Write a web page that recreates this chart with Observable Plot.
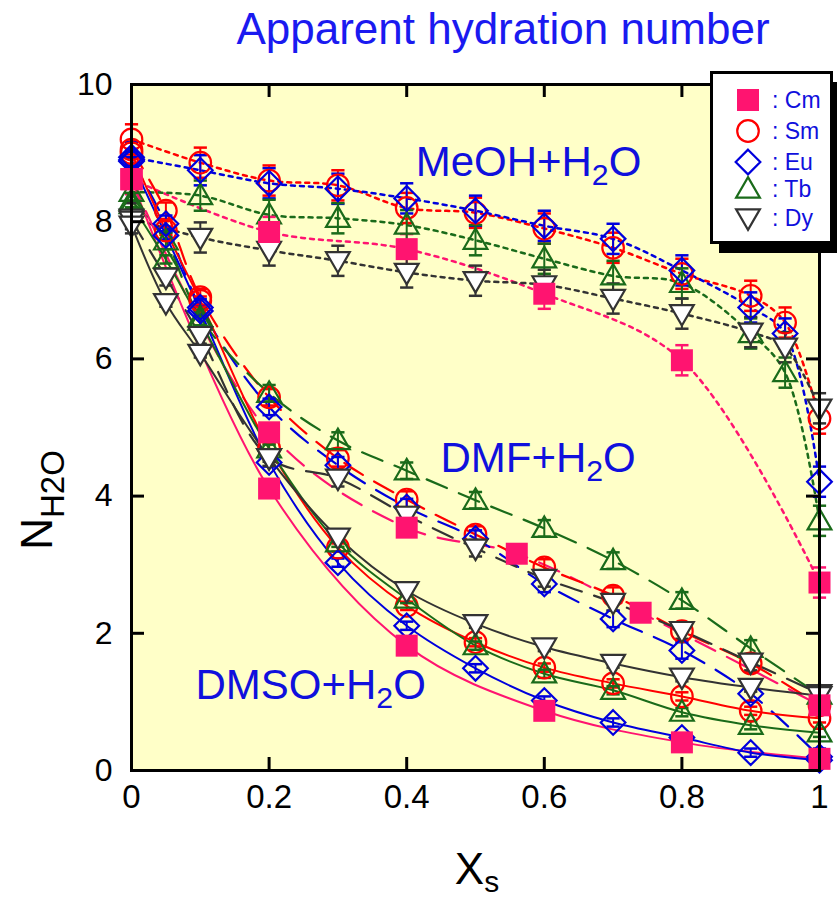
<!DOCTYPE html>
<html><head><meta charset="utf-8">
<script src="https://cdn.jsdelivr.net/npm/d3@7"></script>
<script src="https://cdn.jsdelivr.net/npm/@observablehq/plot@0.6"></script>
<style>
body{margin:0;background:#fff;font-family:"Liberation Sans",Arial,Helvetica,sans-serif;}
#wrap{position:relative;width:837px;height:899px;overflow:hidden;}
#head{position:relative;height:60px;}
#title{position:absolute;left:203px;width:600px;top:7px;text-align:center;font-size:44px;line-height:44px;color:#1a1af0;white-space:nowrap;}
#legend{position:absolute;left:710px;top:71px;}
svg{display:block;}
</style></head>
<body><div id="wrap"><div id="head"><div id="title">Apparent hydration number</div></div><div id="chart"></div><div id="legend"></div></div>
<script>
// ---------- data ----------
const ions = ["Cm", "Sm", "Eu", "Tb", "Dy"];
const solvents = ["MeOH", "DMF", "DMSO"];
const solventLabels = ["MeOH+H2O", "DMF+H2O", "DMSO+H2O"];
const labelX = [0.413, 0.449, 0.093];
const labelY = [8.86, 4.55, 1.24];

const xTicks = [0, 0.2, 0.4, 0.6, 0.8, 1];
const xTickLabels = ["0", "0.2", "0.4", "0.6", "0.8", "1"];
const yTicks = [0, 2, 4, 6, 8, 10];
const yTickLabels = ["0", "2", "4", "6", "8", "10"];
const xInner = [0.2, 0.4, 0.6, 0.8];
const yInner = [2, 4, 6, 8];

// MeOH + H2O
const xMeOH = [0, 0.1, 0.2, 0.3, 0.4, 0.5, 0.6, 0.7, 0.8, 0.9, 0.95, 1];
const xMeOHCm = [0, 0.2, 0.4, 0.6, 0.8, 1];
const meohCm = [8.62, 7.85, 7.6, 6.95, 5.98, 2.74];
const meohSm = [9.2, 8.86, 8.6, 8.53, 8.2, 8.13, 7.9, 7.62, 7.24, 6.92, 6.53, 5.13];
const meohEu = [8.94, 8.75, 8.56, 8.48, 8.34, 8.16, 7.94, 7.75, 7.29, 6.75, 6.37, 4.21];
const meohTb = [8.43, 8.38, 8.1, 8.05, 7.95, 7.73, 7.46, 7.21, 7.1, 6.37, 5.8, 3.64];
const meohDy = [8.05, 7.77, 7.58, 7.43, 7.26, 7.14, 7.08, 6.88, 6.66, 6.39, 6.17, 5.28];

// DMF + H2O
const xDMF = [0, 0.05, 0.1, 0.2, 0.3, 0.4, 0.5, 0.6, 0.7, 0.8, 0.9, 1];
const xDMFCm = [0, 0.2, 0.4, 0.56, 0.74, 1];
const dmfCm = [8.62, 4.93, 3.54, 3.16, 2.3, 0.95];
const dmfSm = [9.05, 8.16, 6.9, 5.44, 4.55, 3.95, 3.44, 2.96, 2.55, 2.03, 1.56, 0.95];
const dmfEu = [8.9, 7.97, 6.75, 5.3, 4.45, 3.84, 3.38, 2.72, 2.21, 1.75, 1.12, 0.2];
const dmfTb = [8.3, 7.72, 6.6, 5.5, 4.81, 4.37, 3.94, 3.53, 3.06, 2.48, 1.78, 1.1];
const dmfDy = [8.02, 7.19, 6.34, 4.56, 4.26, 3.72, 3.24, 2.8, 2.45, 2.04, 1.58, 1.12];

// DMSO + H2O
const xDMSO = [0, 0.05, 0.1, 0.2, 0.3, 0.4, 0.5, 0.6, 0.7, 0.8, 0.9, 1];
const xDMSOCm = [0, 0.2, 0.4, 0.6, 0.8, 1];
const dmsoCm = [8.62, 4.11, 1.82, 0.87, 0.41, 0.17];
const dmsoSm = [9.0, 7.87, 6.85, 4.7, 3.25, 2.4, 1.87, 1.5, 1.27, 1.08, 0.87, 0.76];
const dmsoEu = [8.88, 7.8, 6.7, 4.49, 3.03, 2.11, 1.49, 1.02, 0.7, 0.48, 0.26, 0.15];
const dmsoTb = [8.25, 7.45, 6.55, 4.69, 3.32, 2.5, 1.82, 1.41, 1.17, 0.85, 0.66, 0.55];
const dmsoDy = [7.95, 6.82, 6.08, 4.56, 3.4, 2.62, 2.14, 1.8, 1.56, 1.36, 1.21, 1.09];

// error bar half-widths per solvent
const errBySolvent = [0.22, 0.12, 0.06];

// ---------- build table ----------
const series = [
  ["MeOH", "Cm", xMeOHCm, meohCm], ["MeOH", "Sm", xMeOH, meohSm], ["MeOH", "Eu", xMeOH, meohEu], ["MeOH", "Tb", xMeOH, meohTb], ["MeOH", "Dy", xMeOH, meohDy],
  ["DMF", "Cm", xDMFCm, dmfCm], ["DMF", "Sm", xDMF, dmfSm], ["DMF", "Eu", xDMF, dmfEu], ["DMF", "Tb", xDMF, dmfTb], ["DMF", "Dy", xDMF, dmfDy],
  ["DMSO", "Cm", xDMSOCm, dmsoCm], ["DMSO", "Sm", xDMSO, dmsoSm], ["DMSO", "Eu", xDMSO, dmsoEu], ["DMSO", "Tb", xDMSO, dmsoTb], ["DMSO", "Dy", xDMSO, dmsoDy]
];
const rows = [];
for (const [sol, ion, xs, ys] of series) {
  const e = errBySolvent[solvents.indexOf(sol)];
  xs.forEach((x, i) => rows.push({solvent: sol, ion, x, y: ys[i], e}));
}
const annotations = solventLabels.map((t, i) => ({text: t, x: labelX[i], y: labelY[i]}));

// ---------- styles ----------
const FONT = "'Liberation Sans', Arial, Helvetica, sans-serif";
const ionStroke = {Cm: "#ff1470", Sm: "#ff0000", Eu: "#0000dd", Tb: "#1a6b1a", Dy: "#333333"};
const ionFill = {Cm: "#ff1470", Sm: "none", Eu: "none", Tb: "none", Dy: "#ffffff"};
const dash = {MeOH: "4,5", DMF: "22,13", DMSO: null};
const lineW = {MeOH: 2.5, DMF: 2.2, DMSO: 2};

function sym(fn) { return {draw(c, size) { fn(c, Math.sqrt(size / Math.PI)); }}; }
const symSquare = sym((c, r) => { c.rect(-r, -r, 2 * r, 2 * r); });
const symCircle = sym((c, r) => { const a = r * 0.98; c.moveTo(a, 0); c.arc(0, 0, a, 0, 2 * Math.PI); c.closePath(); });
const symDiamond = sym((c, r) => { const a = r * 1.12; c.moveTo(0, -a); c.lineTo(a, 0); c.lineTo(0, a); c.lineTo(-a, 0); c.closePath(); });
const symUp = sym((c, r) => { const w = r * 1.08; c.moveTo(0, -r * 1.08); c.lineTo(w, r * 0.78); c.lineTo(-w, r * 0.78); c.closePath(); });
const symDown = sym((c, r) => { const w = r * 1.08; c.moveTo(0, r * 1.08); c.lineTo(w, -r * 0.78); c.lineTo(-w, -r * 0.78); c.closePath(); });
const symCap = sym((c, r) => { c.moveTo(-r * 0.6, 0); c.lineTo(r * 0.6, 0); });
const ionSym = {Cm: symSquare, Sm: symCircle, Eu: symDiamond, Tb: symUp, Dy: symDown};
const R = 11;

// ---------- layout ----------
const W = 837, H = 839, mL = 131, mR = 18, mT = 24, mB = 129;
const plotW = W - mL - mR, plotH = H - mT - mB, TICK = 13;

const marks = [Plot.frame({fill: "#ffffc8", stroke: null})];
for (const sol of solvents) {
  for (const ion of ions) {
    marks.push(Plot.line(rows.filter(d => d.solvent === sol && d.ion === ion), {
      x: "x", y: "y", stroke: ionStroke[ion], strokeWidth: lineW[sol],
      strokeDasharray: dash[sol], curve: "catmull-rom"
    }));
  }
}
for (const ion of ions) {
  const rs = rows.filter(d => d.ion === ion);
  marks.push(Plot.ruleX(rs, {x: "x", y1: d => d.y - d.e, y2: d => d.y + d.e, stroke: ionStroke[ion], strokeWidth: 2}));
  marks.push(Plot.dot(rs, {x: "x", y: d => d.y + d.e, symbol: symCap, r: R, stroke: ionStroke[ion], strokeWidth: 2.5}));
  marks.push(Plot.dot(rs, {x: "x", y: d => d.y - d.e, symbol: symCap, r: R, stroke: ionStroke[ion], strokeWidth: 2.5}));
}
for (const ion of ["Sm", "Tb", "Eu", "Dy", "Cm"]) {
  marks.push(Plot.dot(rows.filter(d => d.ion === ion), {
    x: "x", y: "y", symbol: ionSym[ion], r: R,
    stroke: ion === "Cm" ? "none" : ionStroke[ion], fill: ionFill[ion], strokeWidth: 2.2
  }));
}
marks.push(
  Plot.text(annotations, {x: "x", y: "y", text: "text", textAnchor: "start", fontSize: 42, fill: "#1010dd", fontFamily: FONT}),
  Plot.frame({stroke: "#000", strokeWidth: 3}),
  Plot.tickX(xInner, {x: d => d, insetTop: plotH - TICK, stroke: "#000", strokeWidth: 3}),
  Plot.tickX(xInner, {x: d => d, insetBottom: plotH - TICK, stroke: "#000", strokeWidth: 3}),
  Plot.tickY(yInner, {y: d => d, insetRight: plotW - TICK, stroke: "#000", strokeWidth: 3}),
  Plot.tickY(yInner, {y: d => d, insetLeft: plotW - TICK, stroke: "#000", strokeWidth: 3}),
  Plot.text(xTicks, {x: d => d, frameAnchor: "bottom", lineAnchor: "top", dy: 14, text: (d, i) => xTickLabels[i], fontSize: 33, fill: "#000", fontFamily: FONT}),
  Plot.text(yTicks, {y: d => d, frameAnchor: "left", textAnchor: "end", dx: -19, text: (d, i) => yTickLabels[i], fontSize: 32, fill: "#000", fontFamily: FONT})
);

const chart = Plot.plot({
  width: W, height: H, marginLeft: mL, marginRight: mR, marginTop: mT, marginBottom: mB,
  x: {domain: [0, 1], axis: null},
  y: {domain: [0, 10], axis: null},
  style: {fontFamily: FONT, background: "transparent", overflow: "visible"},
  marks
});
document.getElementById("chart").appendChild(chart);

// subscripts in annotation labels
const svg = d3.select(chart);
svg.selectAll("text").filter(function () { return /H2O$/.test(this.textContent); }).each(function () {
  const s = this.textContent;
  const el = d3.select(this);
  el.text(null);
  el.append("tspan").text(s.slice(0, -2));
  el.append("tspan").attr("font-size", "72%").attr("dy", "0.3em").text("2");
  el.append("tspan").attr("dy", "-0.22em").text("O");
});

// axis titles
const yl = svg.append("text").attr("transform", "translate(52,440) rotate(-90)")
  .attr("font-family", FONT).attr("font-size", 44).attr("fill", "#000");
yl.append("tspan").text("N");
yl.append("tspan").attr("font-size", 33).attr("dy", 12).text("H2O");
const xl = svg.append("text").attr("x", 477).attr("y", 824)
  .attr("font-family", FONT).attr("font-size", 44).attr("fill", "#000");
xl.append("tspan").text("X");
xl.append("tspan").attr("font-size", 30).attr("dy", 8).text("s");

// legend
const lg = d3.select("#legend").append("svg").attr("width", 127).attr("height", 184);
lg.append("rect").attr("x", 9).attr("y", 11).attr("width", 118).attr("height", 171).attr("fill", "#000");
lg.append("rect").attr("x", 1.5).attr("y", 1.5).attr("width", 120).attr("height", 170).attr("fill", "#fff").attr("stroke", "#000").attr("stroke-width", 3);
const legY = [29, 60, 91, 118, 147];
ions.forEach((ion, i) => {
  const g = lg.append("g").attr("transform", `translate(38,${legY[i]})`);
  g.append("path").attr("d", d3.symbol(ionSym[ion], Math.PI * R * R)())
    .attr("fill", ionFill[ion]).attr("stroke", ion === "Cm" ? "none" : ionStroke[ion]).attr("stroke-width", 2.2);
  lg.append("text").attr("x", 62).attr("y", legY[i] + 8).attr("font-family", FONT).attr("font-size", 23)
    .attr("fill", "#1010dd").text(": " + ion);
});
</script></body></html>
